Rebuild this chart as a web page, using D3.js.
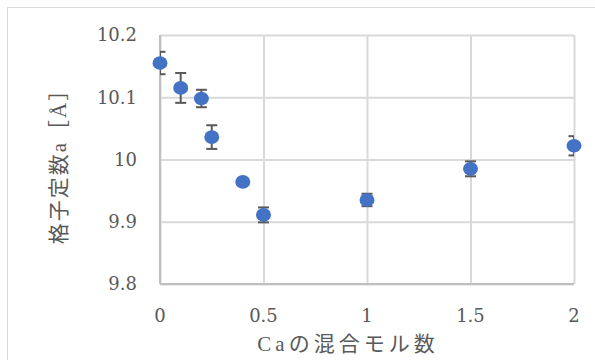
<!DOCTYPE html>
<html><head><meta charset="utf-8">
<script src="https://cdn.jsdelivr.net/npm/d3@7"></script>
<style>body{margin:0;background:#fff;}svg{display:block;}</style>
</head><body><svg id="c" width="595" height="360"></svg>
<script>
const caMol   = [0, 0.1, 0.2, 0.25, 0.4, 0.5, 1.0, 1.5, 2.0];
const latticeA = [10.155, 10.115, 10.098, 10.036, 9.964, 9.911, 9.935, 9.985, 10.022];
const errA    = [0.018, 0.024, 0.014, 0.019, 0.002, 0.012, 0.010, 0.012, 0.0155];
const xTicks  = [0, 0.5, 1, 1.5, 2];
const yTicks  = [9.8, 9.9, 10.0, 10.1, 10.2];
const xTitle  = "Caの混合モル数";
const yTitle  = "格子定数a［Å］";

(function(){
const svg = d3.select("#c");
const pL = 160, pR = 574, pT = 35, pB = 284;
const x = d3.scaleLinear().domain([0, 2]).range([pL, pR]);
const y = d3.scaleLinear().domain([9.8, 10.2]).range([pB, pT]);
const txt = "#595959", grid = "#d9d9d9";
const numFont = "'DejaVu Serif', 'Liberation Serif', serif";
const cjkFont = "'Liberation Serif', 'Noto Sans CJK JP', serif";

svg.append("rect").attr("x", 7.5).attr("y", 7.5).attr("width", 600).attr("height", 400)
  .attr("fill", "none").attr("stroke", "#d9d9d9").attr("stroke-width", 1);

const gy = svg.append("g").attr("transform", `translate(${pL},0)`)
  .call(d3.axisLeft(y).tickValues(yTicks).tickSize(-(pR - pL)).tickFormat(""));
gy.selectAll(".tick line").attr("stroke", grid).attr("stroke-width", 2);
gy.select(".domain").remove();
const gx = svg.append("g").attr("transform", `translate(0,${pB})`)
  .call(d3.axisBottom(x).tickValues(xTicks).tickSize(-(pB - pT)).tickFormat(""));
gx.selectAll(".tick line").attr("stroke", grid).attr("stroke-width", 2);
gx.select(".domain").remove();

svg.append("line").attr("x1", x(0)).attr("x2", x(0)).attr("y1", pT).attr("y2", pB)
  .attr("stroke", "#bfbfbf").attr("stroke-width", 2);
svg.append("line").attr("x1", pL).attr("x2", pR).attr("y1", y(9.8)).attr("y2", y(9.8))
  .attr("stroke", "#bfbfbf").attr("stroke-width", 2);

svg.append("g").selectAll("text").data(yTicks).join("text")
  .attr("x", 137).attr("y", d => y(d)).attr("dy", "0.36em")
  .attr("text-anchor", "end").attr("fill", txt)
  .style("font-family", numFont).style("font-size", "18px")
  .text(d => String(+d.toFixed(1)));
svg.append("g").selectAll("text").data(xTicks).join("text")
  .attr("x", d => x(d)).attr("y", 316).attr("dy", "0.36em")
  .attr("text-anchor", "middle").attr("fill", txt)
  .style("font-family", numFont).style("font-size", "18px")
  .text(d => d);

svg.append("text").attr("x", 348).attr("y", 343).attr("dy", "0.36em")
  .attr("text-anchor", "middle").attr("fill", txt)
  .style("font-family", cjkFont).style("font-size", "21px").style("letter-spacing", "4px")
  .text(xTitle);
svg.append("text").attr("transform", "translate(58,161) rotate(-90)").attr("dy", "0.36em")
  .attr("text-anchor", "middle").attr("fill", txt)
  .style("font-family", cjkFont).style("font-size", "21px").style("letter-spacing", "2px")
  .text(yTitle);

svg.append("defs").append("clipPath").attr("id", "pa")
  .append("rect").attr("x", pL).attr("y", pT - 10).attr("width", pR - pL).attr("height", pB - pT + 20);
const data = caMol.map((c, i) => ({c, a: latticeA[i], e: errA[i]}));
const eb = svg.append("g").attr("clip-path", "url(#pa)")
  .attr("stroke", "#595959").attr("stroke-width", 2).attr("fill", "none");
data.forEach(d => {
  const cx = x(d.c), y1 = y(d.a + d.e), y2 = y(d.a - d.e);
  eb.append("line").attr("x1", cx).attr("x2", cx).attr("y1", y1).attr("y2", y2);
  eb.append("line").attr("x1", cx - 5.5).attr("x2", cx + 5.5).attr("y1", y1).attr("y2", y1);
  eb.append("line").attr("x1", cx - 5.5).attr("x2", cx + 5.5).attr("y1", y2).attr("y2", y2);
});

svg.append("g").selectAll("ellipse").data(data).join("ellipse")
  .attr("cx", d => x(d.c)).attr("cy", d => y(d.a)).attr("rx", 7.5).attr("ry", 6.8)
  .attr("fill", "#4472c4");
})();
</script></body></html>
